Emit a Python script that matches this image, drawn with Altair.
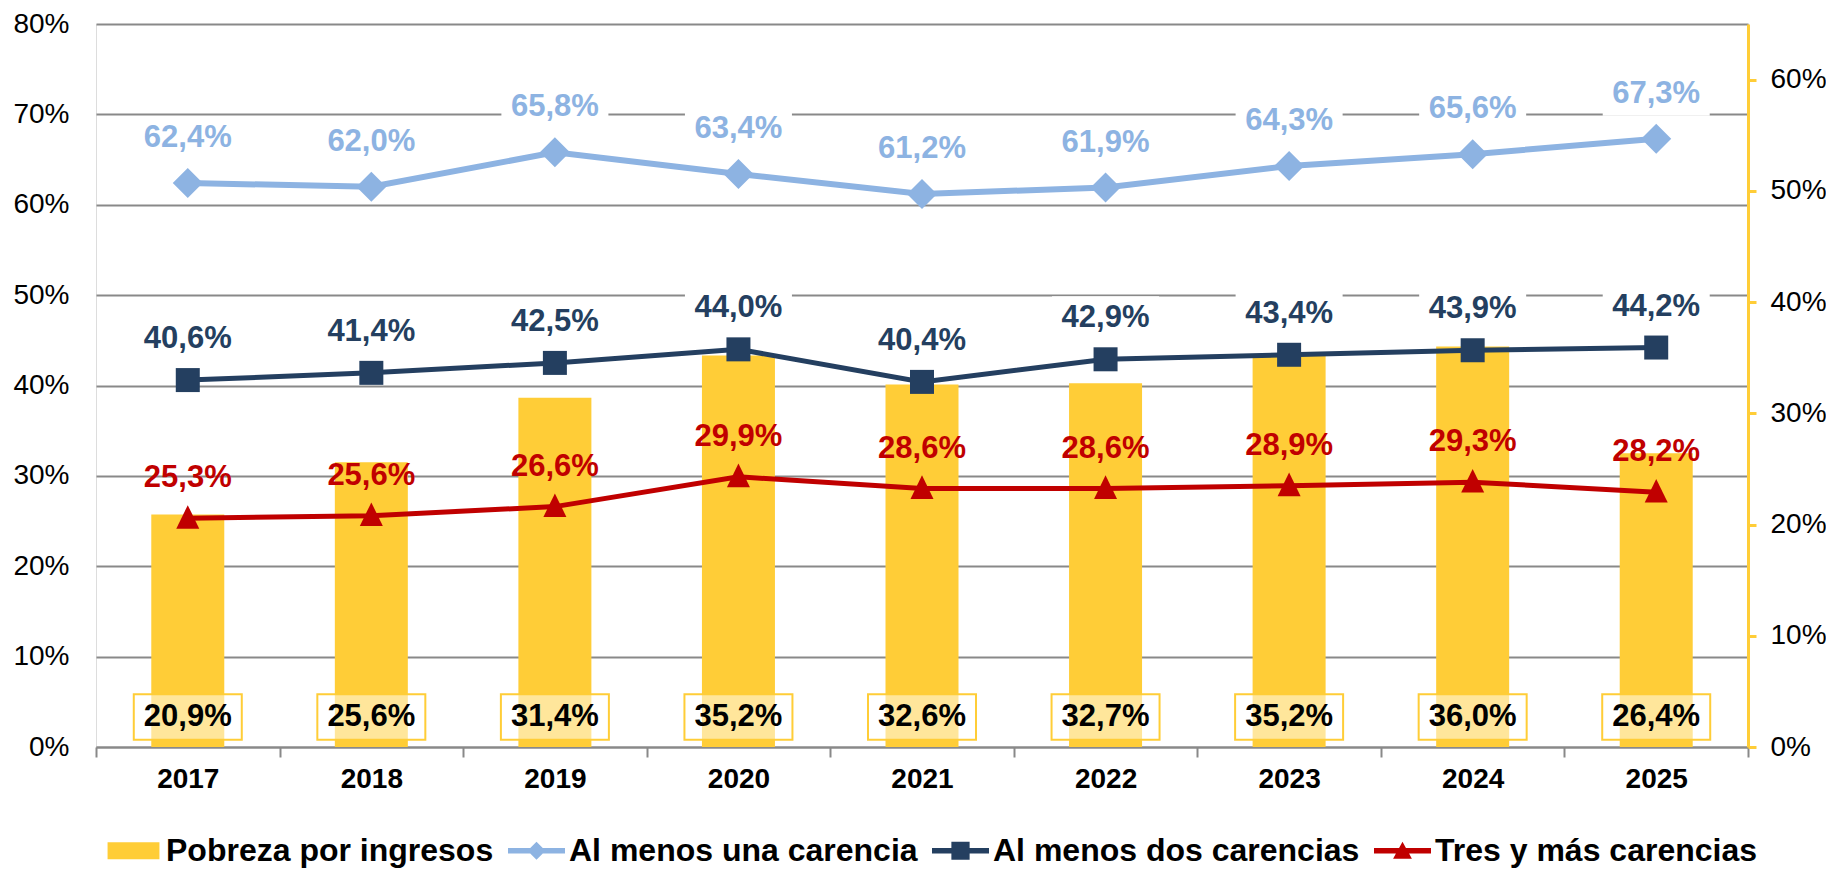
import altair as alt
import pandas as pd

# ---------------- data ----------------
years = ["2017", "2018", "2019", "2020", "2021", "2022", "2023", "2024", "2025"]
pobreza = [20.9, 25.6, 31.4, 35.2, 32.6, 32.7, 35.2, 36.0, 26.4]
una = [62.4, 62.0, 65.8, 63.4, 61.2, 61.9, 64.3, 65.6, 67.3]
dos = [40.6, 41.4, 42.5, 44.0, 40.4, 42.9, 43.4, 43.9, 44.2]
tres = [25.3, 25.6, 26.6, 29.9, 28.6, 28.6, 28.9, 29.3, 28.2]

series_names = ["Pobreza por ingresos", "Al menos una carencia",
                "Al menos dos carencias", "Tres y más carencias"]
series_colors = ["#FFCD37", "#8DB3E2", "#243F60", "#C00000"]

left_ticks = [0, 10, 20, 30, 40, 50, 60, 70, 80]
right_ticks = [0, 10, 20, 30, 40, 50, 60]

FONT = "Liberation Sans"
GRID = "#898989"
YELLOW = series_colors[0]

LABEL_EXPR = "replace(format(datum.value, '.1f'), '.', ',') + '%'"

# ---------------- shared x ----------------
x_enc = alt.X(
    "year:N", sort=years,
    scale=alt.Scale(type="band", paddingInner=0, paddingOuter=0),
    axis=alt.Axis(
        title=None, labelAngle=0, labelFont=FONT, labelFontSize=28,
        labelFontWeight="bold", labelColor="black", labelPadding=8,
        domainColor=GRID, domainWidth=2, tickColor=GRID, tickWidth=2,
        tickSize=10, tickBand="extent", grid=False,
    ),
)

# ---------------- bars (right axis) ----------------
bar_df = pd.DataFrame({"year": years, "value": pobreza})

y_right = alt.Y(
    "value:Q",
    scale=alt.Scale(domain=[0, 65], nice=False),
    axis=alt.Axis(
        orient="right", title=None, values=right_ticks,
        labelExpr="datum.value + '%'", labelFont=FONT, labelFontSize=28,
        labelColor="black", labelPadding=14, domainColor=YELLOW,
        domainWidth=3, tickColor=YELLOW, tickWidth=3, tickSize=8, grid=False,
    ),
)

bars = alt.Chart(bar_df).mark_bar(size=73, color=YELLOW).encode(x=x_enc, y=y_right)

BOX = "M-1,-0.423H1V0.423H-1Z"
bar_boxes = alt.Chart(bar_df).mark_point(
    shape=BOX, size=11664, filled=True, fill="white", fillOpacity=0.5,
    stroke=YELLOW, strokeWidth=2, strokeOpacity=1, opacity=1, yOffset=-30,
).encode(x=x_enc, y=alt.datum(0))

bar_text = alt.Chart(bar_df).transform_calculate(label=LABEL_EXPR).mark_text(
    font=FONT, fontSize=31, fontWeight="bold", color="black",
    baseline="middle", yOffset=-30,
).encode(x=x_enc, y=alt.datum(0), text="label:N")

group_right = alt.layer(bars, bar_boxes, bar_text)

# ---------------- lines (left axis) ----------------
y_left = alt.Y(
    "value:Q",
    scale=alt.Scale(domain=[0, 80], nice=False),
    axis=alt.Axis(
        orient="left", title=None, values=left_ticks,
        labelExpr="datum.value + '%'", labelFont=FONT, labelFontSize=28,
        labelColor="black", labelPadding=27, domain=False, ticks=False,
        grid=True, gridColor=GRID, gridWidth=2,
    ),
)

TRI = "M0,-1.15L1,0.9L-1,0.9Z"
LBOX = "M-1,-0.411H1V0.411H-1Z"

line_specs = [
    # values, color, stroke width, marker shape, marker size, label offset, white box
    (una, series_colors[1], 6, "diamond", 900, -45, True),
    (dos, series_colors[2], 5, "square", 576, -41, True),
    (tres, series_colors[3], 5, TRI, 529, -40, False),
]

left_layers = []
for vals, col, sw, shp, msize, off, has_box in line_specs:
    df = pd.DataFrame({"year": years, "value": vals})
    base = alt.Chart(df)
    left_layers.append(base.mark_line(color=col, strokeWidth=sw).encode(x=x_enc, y=y_left))
    left_layers.append(base.mark_point(shape=shp, size=msize, filled=True, color=col,
                                       opacity=1).encode(x=x_enc, y=y_left))
    if has_box:
        left_layers.append(base.mark_point(shape=LBOX, size=11449, filled=True,
                                           color="white", opacity=1, yOffset=off)
                           .encode(x=x_enc, y=y_left))
    left_layers.append(base.transform_calculate(label=LABEL_EXPR).mark_text(
        font=FONT, fontSize=31, fontWeight="bold", color=col,
        baseline="middle", yOffset=off,
    ).encode(x=x_enc, y=y_left, text="label:N"))

# ---------------- legend (invisible carrier layer) ----------------
legend_df = pd.DataFrame({"series": series_names, "year": [years[0]] * 4,
                          "value": [0, 0, 0, 0]})

SYM_BAR = "M-0.91,-0.3H0.91V0.3H-0.91Z"
SYM_DIA = "M-1,-0.1H-0.22L0,-0.32L0.22,-0.1H1V0.1H0.22L0,0.32L-0.22,0.1H-1Z"
SYM_SQ = "M-1,-0.1H-0.32V-0.32H0.32V-0.1H1V0.1H0.32V0.32H-0.32V0.1H-1Z"
SYM_TRI = "M-1,-0.1H-0.121L0,-0.32L0.121,-0.1H1V0.1H0.231L0.33,0.28H-0.33L-0.231,0.1H-1Z"

legend_def = alt.Legend(
    title=None, orient="none", legendX=9, legendY=798, direction="horizontal",
    columns=4, labelFont=FONT, labelFontSize=32, labelFontWeight="bold",
    labelColor="black", labelLimit=600, symbolSize=3249, symbolStrokeWidth=0,
    symbolOpacity=1, labelOffset=4, columnPadding=14, padding=0,
)

legend_layer = alt.Chart(legend_df).mark_point(filled=True, opacity=0).encode(
    x=x_enc, y=y_left,
    color=alt.Color("series:N", sort=series_names,
                    scale=alt.Scale(domain=series_names, range=series_colors),
                    legend=legend_def),
    shape=alt.Shape("series:N", sort=series_names,
                    scale=alt.Scale(domain=series_names,
                                    range=[SYM_BAR, SYM_DIA, SYM_SQ, SYM_TRI]),
                    legend=legend_def),
)

group_left = alt.layer(*left_layers, legend_layer)

chart = alt.layer(group_right, group_left).resolve_scale(y="independent").properties(
    width=1652, height=723,
    padding={"left": 88, "top": 16, "right": 78, "bottom": 123},
    autosize=alt.AutoSizeParams(type="none"),
).configure_view(stroke=None).configure(background="white")

chart.save("out.html", embed_options={"renderer": "svg", "actions": False})
